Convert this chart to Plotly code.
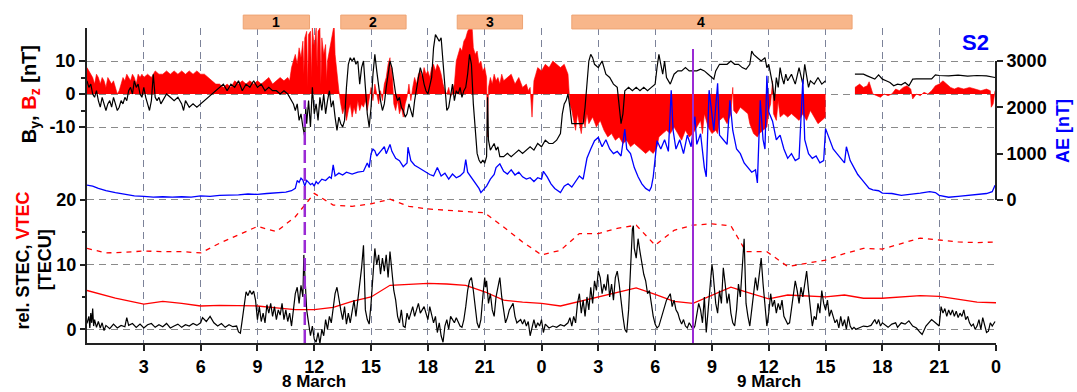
import plotly.graph_objects as go

# Hours since 8 March 00 UT; the IMF record has a data gap between 39.0 h and 40.55 h.
BY_SAMPLES = [
    (0.0, 4), (0.1, 2), (0.2, 3), (0.3, 0), (0.4, -1), (0.5, 1), (0.6, -2), (0.7, -4), (0.8, -1), (0.9, -3),
    (1.0, -5), (1.1, -3), (1.2, -2), (1.3, -4), (1.4, -1), (1.5, -3), (1.6, -5), (1.7, -4), (1.8, -2), (1.9, -3),
    (2.0, -1), (2.1, -2), (2.2, 1), (2.3, 2), (2.4, 0), (2.5, 4), (2.6, 2), (2.7, 3), (2.8, 0), (2.9, -1),
    (3.0, 2), (3.1, -1), (3.2, -3), (3.3, -5), (3.4, -2), (3.5, 6), (3.6, -1), (3.7, -2), (3.8, -1), (3.9, -3),
    (4.0, -2), (4.2, 0), (4.4, -1), (4.6, -2), (4.8, -1), (5.0, -3), (5.1, -5), (5.2, -2), (5.4, -4), (5.6, -3),
    (5.8, -4), (6.0, -3), (6.2, -2), (6.4, -1), (6.6, 0), (6.8, 1), (7.0, 2), (7.2, 3), (7.4, 1), (7.6, 3),
    (7.8, 2), (8.0, 4), (8.2, 1), (8.4, 3), (8.6, 2), (8.8, 4), (9.0, 2), (9.2, 3), (9.4, 1), (9.6, 2),
    (9.8, 1), (10.0, 1), (10.2, 0), (10.4, 1), (10.6, 0), (10.8, -2), (10.9, -3), (11.0, -5), (11.1, -3), (11.2, -8),
    (11.3, -6), (11.4, -10), (11.5, -13), (11.55, -4), (11.6, -9), (11.7, -2), (11.8, -10), (11.9, 2), (12.0, -6), (12.1, -3),
    (12.2, -8), (12.3, -1), (12.4, -5), (12.5, 0), (12.6, -6), (12.7, -2), (12.8, 1), (12.9, -4), (13.0, -2), (13.1, -7),
    (13.2, -11), (13.3, -7), (13.4, -9), (13.5, -10), (13.6, -8), (13.7, 2), (13.8, 9), (13.9, 11), (14.0, 10), (14.1, 11),
    (14.2, 9), (14.3, 10), (14.4, 3), (14.5, 8), (14.6, 10), (14.7, 2), (14.8, -6), (14.9, -10), (15.0, -4), (15.1, 6),
    (15.2, 12), (15.3, 7), (15.4, 2), (15.5, -2), (15.6, -5), (15.7, -3), (15.8, 2), (15.9, 6), (16.0, 10), (16.1, 8),
    (16.2, 4), (16.3, 0), (16.4, -2), (16.5, -1), (16.6, -4), (16.7, -5), (16.8, -7), (16.9, -6), (17.0, -3), (17.1, -5),
    (17.2, -7), (17.3, -2), (17.4, 2), (17.5, 5), (17.6, 8), (17.7, 6), (17.8, 3), (17.9, 1), (18.0, 0), (18.1, 3),
    (18.2, 5), (18.3, 14), (18.4, 18), (18.5, 17), (18.6, 16), (18.7, 17), (18.8, 9), (18.9, 3), (19.0, -5), (19.1, -4),
    (19.2, -1), (19.3, 3), (19.4, -2), (19.5, 1), (19.6, 0), (19.7, 2), (19.8, -1), (19.9, 1), (20.0, 2), (20.1, 6),
    (20.2, 12), (20.3, 9), (20.4, -3), (20.5, -12), (20.6, -18), (20.7, -20), (20.8, -21), (20.9, -20), (21.0, -21), (21.1, -19),
    (21.15, -1), (21.2, -14), (21.3, -17), (21.4, -16), (21.5, -15), (21.6, -17), (21.7, -16), (21.8, -19), (22.0, -19), (22.2, -18),
    (22.4, -19), (22.6, -18), (22.8, -17), (23.0, -18), (23.2, -17), (23.4, -16), (23.6, -17), (23.8, -15), (24.0, -16), (24.2, -14),
    (24.4, -15), (24.6, -15), (24.8, -14), (25.0, -12), (25.1, -6), (25.2, -3), (25.3, -2), (25.4, 0), (25.5, -4), (25.6, -9),
    (25.8, -9), (26.0, -9), (26.2, -9), (26.3, -4), (26.4, 4), (26.5, 10), (26.6, 12), (26.7, 11), (26.8, 9), (27.0, 8),
    (27.2, 10), (27.4, 6), (27.6, 5), (27.8, 3), (28.0, 2), (28.1, -3), (28.2, -9), (28.3, -6), (28.4, 1), (28.6, 2),
    (28.8, 1), (29.0, 2), (29.2, 1), (29.4, 2), (29.6, 1), (29.8, 2), (30.0, 3), (30.1, 8), (30.2, 12), (30.3, 9),
    (30.4, 6), (30.5, 10), (30.6, 5), (30.8, 3), (31.0, 6), (31.2, 7), (31.4, 7), (31.6, 8), (31.8, 7), (32.0, 7),
    (32.2, 7), (32.4, 7.5), (32.6, 7), (32.8, 6), (33.0, 5), (33.1, 4.5), (33.2, 7), (33.4, 9), (33.6, 9), (33.8, 9),
    (34.0, 10), (34.2, 9), (34.4, 9), (34.6, 8), (34.8, 7.5), (35.0, 9), (35.1, 13), (35.2, 12), (35.4, 11), (35.6, 10),
    (35.8, 11), (35.9, 8), (36.0, 9), (36.1, 6), (36.2, 3), (36.3, -2), (36.4, 5), (36.5, 2), (36.6, 8), (36.7, 5),
    (36.8, 3), (36.9, 6), (37.0, 4), (37.2, 6), (37.4, 3), (37.6, 8), (37.7, 5), (37.8, 3), (37.9, 9), (38.0, 6),
    (38.1, 2), (38.2, 4), (38.4, 3), (38.6, 5), (38.8, 3), (39.0, 4), (39.5, None),
    (40.55, 6), (40.8, 6), (41.0, 6), (41.2, 5.5), (41.4, 5), (41.6, 4.5), (41.8, 5.8), (42.0, 4.5), (42.2, 4), (42.4, 3.5),
    (42.6, 2.5), (42.8, 3), (43.0, 2.8), (43.2, 3.5), (43.4, 2.5), (43.6, 4.5), (43.8, 4.6), (44.0, 4.6), (44.2, 4.7), (44.4, 4.5),
    (44.6, 4.6), (44.8, 5.8), (45.0, 5.6), (45.5, 5.5), (46.0, 5.7), (46.5, 5.4), (47.0, 5.6), (47.5, 5.5), (47.95, 5.0),
]

BZ_SAMPLES = [
    (0.0, 8), (0.1, 7), (0.2, 6), (0.3, 5), (0.4, 3), (0.5, 6), (0.6, 5), (0.7, 3), (0.8, 5), (0.9, 4),
    (1.0, 2), (1.1, 5), (1.2, 4), (1.3, 3), (1.4, 4), (1.5, 2), (1.6, 0), (1.7, 1), (1.8, 3), (1.9, 5),
    (2.0, 4), (2.1, 6), (2.2, 5), (2.3, 4), (2.4, 6), (2.5, 5), (2.6, 3), (2.7, 6), (2.8, 5), (2.9, 6),
    (3.0, 5), (3.2, 6), (3.4, 5), (3.6, 7), (3.8, 6), (4.0, 6), (4.2, 7), (4.4, 6), (4.6, 7), (4.8, 6),
    (5.0, 7), (5.2, 6), (5.4, 7), (5.6, 6), (5.8, 7), (6.0, 6), (6.2, 6), (6.4, 5), (6.6, 4), (6.8, 3),
    (7.0, 3), (7.2, 2), (7.4, 3), (7.6, 2), (7.8, 4), (8.0, 3), (8.2, 4), (8.4, 3), (8.6, 4), (8.8, 3),
    (9.0, 4), (9.2, 3), (9.4, 4), (9.6, 5), (9.8, 3), (10.0, 4), (10.2, 5), (10.4, 4), (10.6, 5), (10.7, 4),
    (10.8, 8), (10.9, 10), (11.0, 12), (11.1, 9), (11.2, 14), (11.3, 11), (11.4, 16), (11.45, 6), (11.5, 17), (11.6, 19),
    (11.65, 2), (11.7, 18), (11.8, 19), (11.85, 5), (11.9, 20), (12.0, 14), (12.1, 20), (12.15, 8), (12.2, 19), (12.3, 20),
    (12.35, 3), (12.4, 17), (12.5, 12), (12.6, 15), (12.65, 4), (12.7, 10), (12.8, 13), (12.9, 16), (13.0, 20), (13.05, 21),
    (13.1, 12), (13.2, 6), (13.3, 1), (13.4, -3), (13.5, -6), (13.6, -4), (13.7, -8), (13.8, -5), (13.9, -3), (14.0, -7),
    (14.1, -4), (14.2, -6), (14.3, -2), (14.4, -5), (14.5, -3), (14.6, -4), (14.7, -2), (14.8, -5), (14.9, -1), (15.0, 2),
    (15.1, -2), (15.2, 3), (15.3, 0), (15.4, -3), (15.5, 1), (15.6, -2), (15.7, 3), (15.8, 5), (15.9, 9), (16.0, 11),
    (16.05, 4), (16.1, 8), (16.2, -3), (16.3, -5), (16.4, -2), (16.5, -6), (16.6, -4), (16.7, -7), (16.8, -3), (16.9, -1),
    (17.0, 3), (17.1, -2), (17.2, 2), (17.3, 5), (17.4, 3), (17.5, 6), (17.6, 7), (17.7, 5), (17.8, 8), (17.9, 6),
    (18.0, 7), (18.1, 5), (18.2, 8), (18.3, 9), (18.4, 7), (18.5, 9), (18.6, 8), (18.7, 6), (18.8, 3), (18.9, 1),
    (19.0, 0), (19.1, 2), (19.2, -1), (19.3, 1), (19.4, 3), (19.5, 10), (19.6, 12), (19.7, 14), (19.8, 13), (19.9, 16),
    (20.0, 17), (20.1, 19), (20.2, 20), (20.3, 22), (20.35, 19), (20.4, 14), (20.5, 12), (20.6, 13), (20.7, 9), (20.8, 10),
    (20.9, 7), (21.0, 8), (21.1, 5), (21.15, -13), (21.2, 2), (21.3, 5), (21.4, 3), (21.5, 6), (21.6, 4), (21.7, 5),
    (21.8, 3), (21.9, 6), (22.0, 4), (22.2, 5), (22.4, 6), (22.6, 3), (22.8, 5), (23.0, 2), (23.2, 3), (23.3, 1),
    (23.4, 2), (23.5, -7), (23.6, 4), (23.7, 6), (23.8, 8), (24.0, 7), (24.2, 9), (24.4, 8), (24.6, 10), (24.8, 9),
    (25.0, 8), (25.2, 9), (25.4, 6), (25.5, -3), (25.6, -5), (25.7, -8), (25.8, -11), (25.9, -6), (26.0, -9), (26.1, -12),
    (26.2, -7), (26.3, -10), (26.4, -6), (26.5, -9), (26.7, -7), (26.9, -10), (27.1, -8), (27.3, -11), (27.5, -13), (27.7, -12),
    (27.9, -14), (28.1, -13), (28.3, -15), (28.5, -14), (28.7, -16), (28.9, -15), (29.1, -16), (29.3, -17), (29.5, -18), (29.7, -17),
    (29.9, -18), (30.1, -16), (30.2, -13), (30.4, -12), (30.6, -11), (30.8, -12), (31.0, -10), (31.2, -12), (31.4, -14), (31.6, -11),
    (31.8, -13), (32.0, -12), (32.2, -10), (32.4, -8), (32.5, -12), (32.6, -6), (32.8, -10), (33.0, -12), (33.2, -11), (33.3, -12),
    (33.4, -8), (33.6, -7), (33.8, -9), (34.0, -6), (34.1, 2), (34.15, -5), (34.3, -6), (34.5, -4), (34.7, -5), (34.9, -6),
    (35.0, -9), (35.2, -12), (35.4, -13), (35.5, -12), (35.7, -11), (35.9, -10), (36.0, -5), (36.1, -3), (36.2, 4), (36.25, -6),
    (36.4, -8), (36.5, -2), (36.6, -7), (36.8, -6), (37.0, -7), (37.2, -6), (37.4, -7), (37.6, -8), (37.8, -6), (38.0, -8),
    (38.2, -5), (38.4, -7), (38.6, -9), (38.8, -8), (39.0, -7), (39.5, None),
    (40.55, 2), (40.8, 3), (41.0, 2), (41.2, 2.5), (41.3, 3.7), (41.4, 2), (41.5, 0), (41.7, -0.5), (41.9, -1), (42.1, 0),
    (42.3, -0.5), (42.5, 0), (42.7, 1.5), (42.9, 1), (43.1, 2), (43.3, 2.5), (43.5, 1.5), (43.6, -1.5), (43.8, 0), (44.0, -0.5),
    (44.2, 0.5), (44.4, 0), (44.6, 1), (44.8, 2.5), (45.0, 3), (45.2, 4), (45.4, 3), (45.6, 2), (45.8, 1.5), (46.0, 2),
    (46.3, 1.5), (46.6, 2), (46.9, 1.5), (47.2, 1), (47.5, 1.5), (47.7, 1), (47.75, -4), (47.85, -3), (47.95, 1),
]

AE_SAMPLES = [
    (0.0, 320), (0.3, 300), (0.6, 250), (1.0, 200), (1.5, 160), (2.0, 120), (2.5, 90), (3.0, 80), (3.5, 60), (4.0, 70),
    (4.5, 60), (5.0, 70), (5.5, 60), (6.0, 90), (6.5, 80), (7.0, 100), (7.5, 100), (8.0, 110), (8.5, 130), (9.0, 120),
    (9.5, 140), (10.0, 150), (10.5, 170), (10.8, 200), (11.0, 250), (11.1, 420), (11.2, 380), (11.3, 470), (11.4, 430), (11.5, 300),
    (11.6, 420), (11.7, 380), (11.8, 330), (11.9, 360), (12.0, 300), (12.1, 400), (12.2, 350), (12.4, 450), (12.6, 420), (12.8, 500),
    (12.9, 470), (13.0, 760), (13.1, 520), (13.3, 580), (13.5, 540), (13.7, 600), (14.0, 560), (14.3, 600), (14.6, 620), (14.8, 800),
    (14.9, 700), (15.0, 1000), (15.1, 1100), (15.2, 1060), (15.3, 950), (15.5, 1050), (15.7, 1150), (15.8, 1000), (16.0, 1200), (16.1, 1050),
    (16.3, 900), (16.5, 850), (16.7, 720), (16.9, 800), (16.95, 1140), (17.1, 850), (17.3, 750), (17.5, 700), (17.7, 650), (17.9, 600),
    (18.1, 550), (18.3, 520), (18.5, 700), (18.7, 520), (18.9, 580), (19.1, 450), (19.3, 560), (19.5, 480), (19.7, 520), (19.9, 600),
    (20.0, 870), (20.1, 600), (20.3, 480), (20.5, 350), (20.7, 250), (20.8, 160), (20.9, 200), (21.1, 300), (21.3, 450), (21.5, 550),
    (21.6, 700), (21.8, 780), (22.0, 620), (22.2, 560), (22.4, 650), (22.6, 540), (22.8, 600), (23.0, 500), (23.2, 450), (23.4, 480),
    (23.6, 400), (23.8, 480), (24.0, 450), (24.1, 620), (24.3, 500), (24.5, 350), (24.7, 250), (24.9, 180), (25.0, 160), (25.2, 300),
    (25.4, 350), (25.6, 280), (25.8, 400), (26.0, 520), (26.2, 450), (26.4, 900), (26.6, 1100), (26.8, 1280), (27.0, 1350), (27.2, 1150),
    (27.4, 1300), (27.6, 1100), (27.8, 1000), (28.0, 1050), (28.2, 950), (28.4, 1530), (28.5, 1100), (28.7, 1000), (28.9, 700), (29.1, 500),
    (29.3, 350), (29.5, 250), (29.7, 200), (29.8, 280), (29.9, 500), (30.0, 900), (30.1, 1280), (30.3, 1100), (30.5, 1300), (30.7, 1050),
    (30.85, 2370), (30.95, 1500), (31.1, 1100), (31.3, 1300), (31.5, 1000), (31.7, 1400), (31.9, 1150), (32.0, 1500), (32.1, 1800), (32.2, 1200),
    (32.4, 1430), (32.6, 700), (32.7, 500), (32.85, 2370), (33.0, 1800), (33.1, 1500), (33.3, 2520), (33.4, 1400), (33.6, 1300), (33.8, 1200),
    (33.95, 2150), (34.1, 1500), (34.3, 1100), (34.5, 1000), (34.7, 800), (34.9, 700), (35.1, 600), (35.3, 650), (35.4, 370), (35.55, 2150),
    (35.7, 1300), (35.8, 1100), (35.9, 2680), (36.0, 1900), (36.2, 1700), (36.4, 1300), (36.6, 1400), (36.8, 1100), (37.0, 900), (37.2, 1000),
    (37.4, 850), (37.6, 900), (37.8, 2600), (37.9, 1300), (38.1, 1000), (38.3, 900), (38.5, 950), (38.7, 800), (38.9, 850), (39.0, 1540),
    (39.2, 1300), (39.4, 1100), (39.6, 1000), (39.8, 900), (40.0, 800), (40.1, 1150), (40.3, 850), (40.5, 700), (40.7, 550), (40.9, 450),
    (41.1, 350), (41.3, 250), (41.5, 220), (41.8, 200), (42.0, 150), (42.5, 140), (43.0, 100), (43.5, 120), (44.0, 150), (44.5, 180),
    (44.8, 160), (45.0, 100), (45.5, 60), (46.0, 80), (46.5, 100), (47.0, 110), (47.5, 140), (47.8, 180), (47.95, 320),
]

STEC_SAMPLES = [
    (0.0, 0.9), (0.1, 2.0), (0.15, 0.2), (0.2, 2.5), (0.25, 1.0), (0.3, 3.2), (0.35, 0.5), (0.4, 1.5), (0.5, 0.3), (0.6, 1.2),
    (0.7, 0.2), (0.8, 1.0), (0.9, -0.2), (1.0, 0.6), (1.2, 0.1), (1.4, 0.8), (1.6, 0.2), (1.8, 0.6), (2.0, 0.4), (2.1, 1.8),
    (2.2, 0.6), (2.4, 0.9), (2.6, 0.3), (2.8, 0.8), (3.0, 0.2), (3.2, 0.7), (3.4, 0.9), (3.6, 0.3), (3.8, 0.7), (4.0, 0.4),
    (4.2, 0.9), (4.4, 0.2), (4.6, 0.5), (4.8, 0.8), (5.0, 0.3), (5.2, 0.7), (5.4, 0.5), (5.6, 0.9), (5.8, 0.6), (6.0, 1.0),
    (6.1, 1.8), (6.3, 1.2), (6.5, 2.0), (6.7, 1.0), (6.9, 0.5), (7.1, 0.9), (7.3, 0.3), (7.5, 0.7), (7.7, 0.4), (7.9, 0.5),
    (8.0, -0.4), (8.1, -0.6), (8.2, 1.5), (8.3, 4.0), (8.4, 5.8), (8.5, 5.2), (8.6, 6.0), (8.7, 5.4), (8.8, 5.9), (8.9, 4.5),
    (9.0, 1.5), (9.1, 3.5), (9.2, 1.2), (9.3, 2.5), (9.4, 1.0), (9.5, 3.8), (9.6, 2.5), (9.7, 4.0), (9.8, 2.0), (9.9, 3.5),
    (10.0, 1.5), (10.1, 3.0), (10.2, 2.2), (10.3, 4.0), (10.4, 1.5), (10.5, 3.0), (10.6, 1.2), (10.7, 2.5), (10.8, 0.5), (10.9, 3.0),
    (11.0, 5.5), (11.1, 6.5), (11.2, 4.0), (11.3, 6.8), (11.4, 5.0), (11.45, 11.5), (11.55, 6.0), (11.6, 3.0), (11.7, 1.0), (11.8, -1.0),
    (11.9, 0.5), (12.0, -1.5), (12.1, -2.0), (12.2, -0.5), (12.3, -2.2), (12.4, 0.0), (12.5, -1.0), (12.6, 1.5), (12.7, 0.0), (12.8, 2.0),
    (12.9, 1.0), (13.0, 3.5), (13.1, 5.5), (13.2, 6.5), (13.3, 4.5), (13.4, 3.0), (13.5, 1.5), (13.6, 3.5), (13.7, 0.8), (13.8, 2.5),
    (13.9, 1.0), (14.0, 3.0), (14.1, 4.5), (14.2, 2.0), (14.3, 4.5), (14.4, 7.0), (14.5, 9.5), (14.6, 13.0), (14.65, 7.0), (14.7, 3.0),
    (14.8, 1.5), (14.9, 0.8), (15.0, 4.0), (15.1, 8.0), (15.2, 12.5), (15.3, 10.0), (15.4, 11.5), (15.5, 8.5), (15.6, 11.0), (15.7, 9.0),
    (15.8, 11.5), (15.9, 8.0), (16.0, 12.0), (16.1, 9.0), (16.2, 6.0), (16.3, 4.5), (16.4, 2.0), (16.5, 1.0), (16.6, 3.0), (16.7, 0.5),
    (16.8, 0.3), (16.9, 2.5), (17.0, 1.5), (17.2, 3.5), (17.3, 2.0), (17.5, 4.0), (17.6, 2.5), (17.8, 3.5), (17.9, 2.5), (18.0, 1.5),
    (18.1, 3.5), (18.2, 2.0), (18.3, 1.0), (18.4, 2.0), (18.5, -0.5), (18.6, 1.0), (18.7, -1.0), (18.8, -2.0), (18.9, 0.5), (19.0, 1.5),
    (19.1, 0.0), (19.2, 2.0), (19.4, 1.0), (19.5, 1.8), (19.7, 0.5), (19.8, 0.3), (19.9, 1.5), (20.0, 3.5), (20.1, 6.0), (20.2, 7.5),
    (20.3, 8.0), (20.4, 6.0), (20.5, 3.0), (20.6, 1.0), (20.7, 0.2), (20.8, 1.5), (20.9, 5.0), (21.0, 8.0), (21.05, 6.5), (21.1, 7.5),
    (21.2, 4.0), (21.3, 5.5), (21.4, 3.0), (21.5, 2.0), (21.6, 5.0), (21.7, 6.5), (21.8, 8.0), (21.9, 5.0), (22.0, 2.5), (22.1, 1.0),
    (22.2, 1.8), (22.3, 3.0), (22.5, 4.0), (22.6, 2.0), (22.7, 1.0), (22.9, 1.5), (23.0, 0.8), (23.1, 1.5), (23.2, 0.5), (23.3, 1.2),
    (23.4, -1.0), (23.5, 0.5), (23.6, 1.5), (23.7, 0.2), (23.8, 1.0), (23.9, 0.5), (24.0, 1.5), (24.1, -0.5), (24.2, 0.8), (24.4, 0.2),
    (24.6, 0.5), (24.8, 0.3), (25.0, 0.7), (25.2, 0.5), (25.4, 1.0), (25.5, 1.8), (25.6, 0.5), (25.7, 2.0), (25.8, 1.0), (25.9, 4.0),
    (26.0, 5.5), (26.1, 2.5), (26.2, 4.5), (26.3, 2.0), (26.4, 5.0), (26.5, 3.0), (26.6, 6.5), (26.7, 4.0), (26.8, 7.5), (26.9, 6.0),
    (27.0, 9.0), (27.1, 8.0), (27.2, 5.5), (27.3, 7.0), (27.4, 6.0), (27.5, 8.5), (27.6, 5.0), (27.7, 7.0), (27.8, 4.5), (27.9, 8.0),
    (28.0, 9.0), (28.1, 7.0), (28.2, 4.0), (28.3, 2.0), (28.4, 0.0), (28.5, -0.5), (28.6, 3.0), (28.7, 10.0), (28.8, 15.5), (28.85, 16.0),
    (28.9, 12.5), (29.0, 11.0), (29.1, 14.0), (29.2, 12.0), (29.3, 10.0), (29.4, 8.5), (29.5, 7.5), (29.6, 5.5), (29.7, 6.0), (29.8, 3.5),
    (29.9, 2.0), (30.0, 0.8), (30.1, 0.2), (30.2, 0.5), (30.3, 1.5), (30.4, 2.5), (30.5, 3.5), (30.6, 4.5), (30.7, 5.0), (30.8, 5.5),
    (30.9, 3.5), (31.0, 4.5), (31.1, 3.0), (31.2, 2.5), (31.3, 1.5), (31.4, 0.8), (31.5, 1.5), (31.6, 0.5), (31.7, 0.2), (31.8, 1.0),
    (31.9, 0.5), (32.0, 0.0), (32.1, 0.5), (32.2, 2.5), (32.3, 4.0), (32.4, 3.0), (32.5, 1.0), (32.6, 5.0), (32.7, -0.5), (32.8, 3.0),
    (32.9, 6.0), (33.0, 10.0), (33.05, 9.0), (33.1, 7.0), (33.2, 4.0), (33.3, 2.5), (33.4, 6.0), (33.5, 4.0), (33.6, 9.5), (33.7, 7.0),
    (33.8, 4.0), (33.9, 5.5), (34.0, 2.5), (34.1, 1.0), (34.2, 0.5), (34.3, 3.0), (34.4, 7.0), (34.5, 5.0), (34.6, 10.0), (34.7, 14.0),
    (34.75, 9.0), (34.8, 4.0), (34.9, 2.0), (35.0, 0.5), (35.1, 3.0), (35.2, 6.0), (35.3, 8.0), (35.4, 6.0), (35.5, 9.0), (35.6, 11.0),
    (35.7, 7.0), (35.8, 3.0), (35.9, 0.5), (36.0, 2.5), (36.1, 5.5), (36.2, 3.5), (36.3, 4.5), (36.4, 2.5), (36.5, 4.0), (36.6, 3.0),
    (36.7, 4.5), (36.8, 2.0), (36.9, 1.5), (37.0, 0.8), (37.1, 1.0), (37.2, 3.0), (37.3, 5.5), (37.4, 7.5), (37.5, 6.0), (37.6, 4.0),
    (37.7, 6.5), (37.8, 5.0), (37.9, 7.0), (38.0, 9.0), (38.1, 6.0), (38.2, 3.0), (38.3, 0.5), (38.4, 2.0), (38.5, 1.5), (38.6, 4.0),
    (38.7, 2.5), (38.8, 6.0), (38.9, 4.0), (39.0, 3.0), (39.1, 4.5), (39.2, 2.0), (39.3, 3.0), (39.4, 2.0), (39.5, 1.0), (39.6, 1.5),
    (39.7, 0.2), (39.8, 2.0), (39.9, 0.5), (40.0, 1.5), (40.1, 0.0), (40.2, 2.0), (40.3, 0.5), (40.4, 0.0), (40.5, 0.3), (40.6, 0.0),
    (40.8, 0.2), (41.0, 0.5), (41.2, 0.4), (41.4, 0.6), (41.6, 1.5), (41.7, 0.8), (41.8, 1.5), (41.9, 0.5), (42.0, 1.0), (42.2, 0.6),
    (42.3, 0.3), (42.5, 0.8), (42.7, 1.0), (42.8, 0.3), (43.0, 1.0), (43.2, 0.8), (43.4, 1.3), (43.6, 0.5), (43.8, 0.2), (44.0, -0.5),
    (44.1, -0.8), (44.3, 0.5), (44.5, 1.2), (44.6, 1.5), (44.8, 1.0), (45.0, 0.5), (45.1, 3.5), (45.2, 2.5), (45.3, 3.2), (45.4, 2.0),
    (45.5, 3.0), (45.6, 2.2), (45.7, 3.0), (45.8, 2.0), (45.9, 2.8), (46.0, 1.8), (46.1, 2.5), (46.2, 2.0), (46.3, 3.0), (46.4, 1.5),
    (46.5, 2.0), (46.6, 1.0), (46.7, 0.5), (46.8, 0.8), (46.9, 0.0), (47.0, 0.5), (47.1, 1.5), (47.2, 0.0), (47.3, 1.8), (47.4, 0.5),
    (47.5, -0.5), (47.6, -0.3), (47.7, 1.0), (47.8, 0.5), (47.95, 1.2),
]

vtec_hours = [0, 1.5, 3, 4, 5, 6, 7, 8, 9, 10, 11, 12, 13, 14, 15, 16, 17, 18, 19, 20, 21, 22, 23, 24, 25,
              26, 27, 28, 29, 30, 31, 32, 33, 34, 35, 36, 37, 38, 39, 40, 41, 42, 43, 44, 45, 46, 47, 48]
vtec_tecu = [6.0, 4.8, 3.9, 4.3, 4.0, 3.6, 3.7, 3.7, 3.6, 3.3, 3.05, 3.05, 3.4, 4.3, 5.0, 6.8, 6.9, 7.1, 7.0, 6.8,
             5.8, 4.5, 4.2, 4.0, 3.6, 4.3, 4.9, 5.6, 6.4, 5.4, 4.3, 4.0, 5.2, 6.5, 5.6, 4.7, 5.3, 5.2, 5.0, 5.3,
             4.8, 4.8, 5.0, 5.2, 5.1, 4.7, 4.2, 4.1]

vtec_ref_hours = [0, 1, 2, 3, 4, 5, 6, 7, 8, 9, 10, 11, 12, 13, 14, 15, 16, 17, 18, 19, 20, 21, 22, 23, 24,
                  25, 26, 27, 28, 29, 30, 31, 32, 33, 34, 34.8, 35.9, 37, 38, 39, 40, 41, 42, 43, 44, 45, 46, 47, 48]
vtec_ref_tecu = [12.5, 11.8, 11.9, 12.1, 12.0, 12.0, 11.8, 13.3, 14.6, 15.9, 15.1, 17.4, 21.0, 19.2, 19.0, 19.4,
                 20.1, 19.0, 18.6, 18.4, 18.3, 18.0, 15.8, 13.5, 11.5, 12.2, 14.8, 14.8, 15.6, 16.1, 13.0, 15.3,
                 16.1, 16.3, 16.0, 12.0, 12.0, 9.7, 10.2, 10.7, 11.7, 12.5, 12.4, 13.3, 14.1, 13.8, 13.5, 13.4, 13.5]

# storm phases (label, start h, end h, label position h)
PHASES = [("1", 8.25, 11.75, 10.0), ("2", 13.4, 16.85, 15.1), ("3", 19.55, 23.0, 21.3), ("4", 25.6, 40.4, 32.4)]
MARKER_DASHED_H = 11.5
MARKER_SOLID_H = 32.0

hour_ticks = list(range(3, 49, 3))
hour_labels = [str(h % 24) for h in hour_ticks]
day_labels = [(12, "8 March"), (36, "9 March")]

by_hours, by_nT = zip(*BY_SAMPLES)
ae_hours, ae_nT = zip(*AE_SAMPLES)
stec_hours, stec_tecu = zip(*STEC_SAMPLES)

FONT = "Liberation Sans, Arial, sans-serif"
RED, BLUE, PURPLE = "#ff0000", "#0000ff", "#9a2ad4"
AXIS_C = "#222222"

fig = go.Figure()

# Bz as a filled area, one trace per continuous stretch
segment = []
bz_segments = []
for t, v in BZ_SAMPLES:
    if v is None:
        bz_segments.append(segment)
        segment = []
    else:
        segment.append((t, v))
bz_segments.append(segment)
for seg in bz_segments:
    st, sv = zip(*seg)
    fig.add_trace(go.Scatter(x=st, y=sv, mode="lines", fill="tozeroy", fillcolor=RED,
                             line=dict(color=RED, width=0.6), yaxis="y", hoverinfo="skip"))

fig.add_trace(go.Scatter(x=by_hours, y=by_nT, mode="lines", connectgaps=False,
                         line=dict(color="black", width=1.2), yaxis="y"))
fig.add_trace(go.Scatter(x=ae_hours, y=ae_nT, mode="lines",
                         line=dict(color=BLUE, width=1.3), yaxis="y2"))
fig.add_trace(go.Scatter(x=vtec_ref_hours, y=vtec_ref_tecu, mode="lines",
                         line=dict(color=RED, width=1.3, dash="5px,5px"), yaxis="y3"))
fig.add_trace(go.Scatter(x=vtec_hours, y=vtec_tecu, mode="lines",
                         line=dict(color=RED, width=1.3), yaxis="y3"))
fig.add_trace(go.Scatter(x=stec_hours, y=stec_tecu, mode="lines",
                         line=dict(color="black", width=1.2), yaxis="y3"))

tick_font = dict(family=FONT, size=18, color="black", weight="bold")
common_y = dict(ticks="outside", ticklen=6, tickwidth=2, tickcolor=AXIS_C, zeroline=False,
                tickfont=tick_font, tickmode="array")

fig.update_layout(
    width=1077, height=392,
    margin=dict(l=87, r=81, t=28, b=49),
    plot_bgcolor="white", paper_bgcolor="white",
    showlegend=False,
    font=dict(family=FONT),
    xaxis=dict(range=[0, 48], tickmode="array", tickvals=hour_ticks, ticktext=hour_labels,
               ticks="outside", ticklen=6, tickwidth=2, tickcolor=AXIS_C, ticklabelstandoff=0,
               showline=True, linewidth=2, linecolor=AXIS_C,
               showgrid=True, gridcolor="#7c8299", gridwidth=1, griddash="7px,5px",
               zeroline=False, tickfont=tick_font),
    yaxis=dict(range=[-75.45, 20.0], tickvals=[-10, 0, 10], ticktext=["-10", "0", "10"],
               showline=True, linewidth=2, linecolor=AXIS_C,
               showgrid=True, gridcolor="#8a8a8a", gridwidth=1, griddash="7px,5px",
               minor=dict(tickmode="array", tickvals=[-5, 5], ticks="outside", ticklen=4,
                          tickwidth=1.5, tickcolor=AXIS_C, showgrid=False),
               **common_y),
    yaxis2=dict(overlaying="y", side="right", anchor="x", range=[-3086, 3712],
                tickvals=[0, 1000, 2000, 3000], ticktext=["0", "1000", "2000", "3000"],
                showline=False, showgrid=False, **common_y),
    yaxis3=dict(overlaying="y", side="left", anchor="x", range=[-2.12, 46.57],
                tickvals=[0, 10, 20], ticktext=["0", "10", "20"],
                showline=False, showgrid=True, gridcolor="#8a8a8a", gridwidth=1, griddash="7px,5px",
                minor=dict(tickmode="array", tickvals=[5, 15], ticks="outside", ticklen=4,
                           tickwidth=1.5, tickcolor=AXIS_C, showgrid=False),
                **common_y),
)

shapes = []
# AE axis line covering its scale only
shapes.append(dict(type="line", xref="paper", yref="y2", x0=1, x1=1, y0=0, y1=3000,
                   line=dict(color=AXIS_C, width=2)))
# storm phase bars above the plot
for name, h0, h1, hl in PHASES:
    shapes.append(dict(type="rect", xref="x", yref="paper", x0=h0, x1=h1, y0=0.997, y1=1.041,
                       fillcolor="#f8b68a", line=dict(color="#eea474", width=1)))
# event markers
shapes.append(dict(type="line", xref="x", yref="paper", x0=MARKER_DASHED_H, x1=MARKER_DASHED_H,
                   y0=0, y1=0.771, line=dict(color=PURPLE, width=2.5, dash="13px,5px")))
shapes.append(dict(type="line", xref="x", yref="paper", x0=MARKER_SOLID_H, x1=MARKER_SOLID_H,
                   y0=0, y1=0.933, line=dict(color=PURPLE, width=2)))
fig.update_layout(shapes=shapes)


def label(x, y, text, size, color="black", angle=0, xref="paper"):
    return dict(x=x, y=y, xref=xref, yref="paper", text=text, showarrow=False,
                xanchor="center", yanchor="middle", textangle=angle,
                font=dict(family=FONT, size=size, color=color, weight="bold"))


ann = []
for name, h0, h1, hl in PHASES:
    ann.append(label(hl, 1.019, name, 14, xref="x"))
for h, txt in day_labels:
    ann.append(label(h, -0.121, txt, 17, xref="x"))
ann.append(label(0.977, 0.955, "S2", 22, BLUE))
ann.append(label(1.0737, 0.673, "AE [nT]", 18, BLUE, -90))
ann.append(label(-0.0627, 0.790,
                 "B<sub>y</sub>, <span style='color:#ff0000'>B<sub>z</sub></span> [nT]", 20, angle=-90))
ann.append(label(-0.070, 0.263, "rel. STEC, <span style='color:#ff0000'>VTEC</span>", 18, angle=-90))
ann.append(label(-0.0462, 0.263, "[TECU]", 18, angle=-90))
fig.update_layout(annotations=ann)

fig.write_html("out.html")
